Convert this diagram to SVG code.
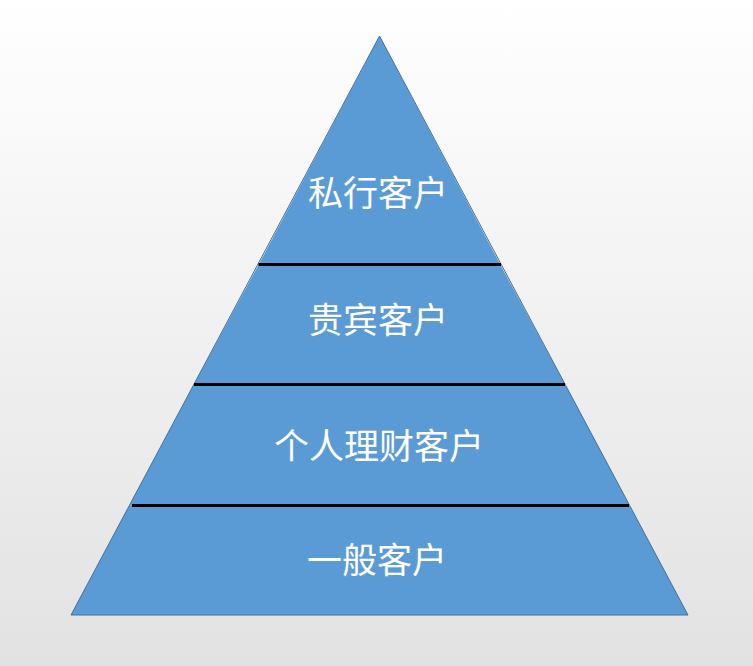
<svg xmlns="http://www.w3.org/2000/svg" width="753" height="666" viewBox="0 0 753 666">
  <defs>
    <linearGradient id="bg" x1="0" y1="0" x2="0" y2="1">
      <stop offset="0" stop-color="#ffffff"/>
      <stop offset="1" stop-color="#e2e2e2"/>
    </linearGradient>
  </defs>
  <style>
    .tier { fill: #5b9bd5; stroke: none; }
    .outline { fill: none; stroke: #41719c; stroke-width: 1; stroke-linejoin: miter; }
    .lbl { fill: #ffffff; font-family: "Noto Sans CJK SC", "Noto Sans", sans-serif; font-size: 35px; text-anchor: middle; dominant-baseline: central; }
    .div { stroke: #000000; stroke-width: 3; }
  </style>
  <rect x="0" y="0" width="753" height="666" fill="url(#bg)"/>

  <g id="tier-private">
    <polygon class="tier" points="379.5,36 500.25,264.5 258.75,264.5"/>
    <text class="lbl" x="378" y="190">私行客户</text>
  </g>
  <g id="tier-vip">
    <polygon class="tier" points="258.75,264.5 500.25,264.5 565.2,384.5 193.8,384.5"/>
    <text class="lbl" x="378" y="317">贵宾客户</text>
  </g>
  <g id="tier-wealth">
    <polygon class="tier" points="193.8,384.5 565.2,384.5 629.7,505.5 129.3,505.5"/>
    <text class="lbl" x="379" y="443">个人理财客户</text>
  </g>
  <g id="tier-general">
    <polygon class="tier" points="129.3,505.5 629.7,505.5 688,615 71,615"/>
    <text class="lbl" x="377" y="557">一般客户</text>
  </g>

  <polygon class="outline" points="379.5,36 688,615 71,615"/>

  <g id="dividers">
    <line class="div" x1="258.5" y1="264.5" x2="501" y2="264.5"/>
    <line class="div" x1="194" y1="384.5" x2="565" y2="384.5"/>
    <line class="div" x1="132" y1="505.5" x2="629" y2="505.5"/>
  </g>
</svg>
